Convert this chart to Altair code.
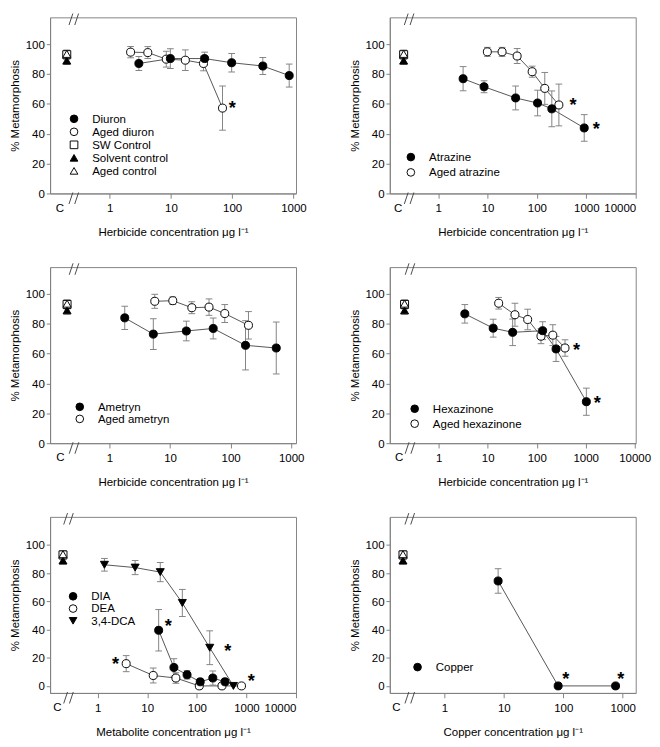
import altair as alt
import pandas as pd

# ------------------------------------------------------------------ data
control_names = ["SW Control", "Solvent control", "Aged control"]
control_y = [93.0, 89.0, 93.5]
control_err = [3.0, 2.5, 2.5]

diuron_x = [3.0, 9.8, 35.5, 98, 316, 851]
diuron_y = [87.1, 90.4, 90.4, 87.6, 85.4, 79.0]
diuron_err = [4.7, 6.6, 4.3, 6.2, 5.7, 7.7]
aged_diuron_x = [2.2, 4.2, 8.4, 17.2, 34, 69.5]
aged_diuron_y = [94.7, 94.4, 90.0, 89.3, 87.1, 57.2]
aged_diuron_err = [3.8, 4.0, 5.3, 6.9, 4.9, 14.8]

atrazine_x = [3.2, 8.5, 37, 103, 200, 906]
atrazine_y = [76.9, 71.5, 64.0, 60.6, 56.7, 43.9]
atrazine_err = [8.1, 4.0, 8.0, 8.6, 12.0, 8.9]
aged_atrazine_x = [9.9, 19.7, 39.7, 80, 144, 278]
aged_atrazine_y = [94.9, 94.9, 92.1, 81.6, 70.4, 59.3]
aged_atrazine_err = [3.0, 3.0, 5.0, 3.7, 10.7, 14.0]

ametryn_x = [1.79, 5.3, 18.6, 51.6, 176, 566]
ametryn_y = [84.0, 73.1, 75.2, 76.9, 65.6, 63.8]
ametryn_err = [7.8, 10.3, 6.6, 7.0, 16.5, 17.4]
aged_ametryn_x = [5.6, 11.1, 22.9, 44, 80, 197]
aged_ametryn_y = [95.1, 95.5, 90.8, 91.2, 86.9, 79.0]
aged_ametryn_err = [4.7, 2.5, 4.0, 5.5, 6.0, 9.2]

hexazinone_x = [3.4, 12.9, 32.2, 132, 248, 1030]
hexazinone_y = [86.7, 77.1, 74.3, 75.4, 63.2, 27.8]
hexazinone_err = [6.2, 6.0, 8.9, 6.0, 8.4, 9.1]
aged_hexazinone_x = [16.7, 35.9, 65.3, 122, 213, 378]
aged_hexazinone_y = [93.8, 86.1, 82.9, 71.7, 72.4, 63.8]
aged_hexazinone_err = [3.9, 7.7, 6.9, 5.0, 7.0, 5.5]

dia_x = [17, 34.5, 63.5, 117, 210, 370]
dia_y = [39.5, 13.1, 7.9, 2.9, 5.6, 2.9]
dia_err = [14.7, 6.2, 3.0, 2.0, 5.0, 2.5]
dea_x = [3.76, 13.2, 37.8, 112, 321, 795]
dea_y = [15.8, 7.4, 5.6, 0, 0, 0]
dea_err = [5.7, 5.3, 3.7, 0, 0, 0]
dca_x = [1.37, 5.7, 18.3, 51, 182, 546]
dca_y = [86.0, 84.0, 80.8, 58.9, 27.1, 0]
dca_err = [4.5, 5.0, 6.8, 9.6, 12.0, 0]

copper_x = [8, 82, 760]
copper_y = [74.5, 0, 0]
copper_err = [8.7, 0, 0]

# significance asterisks (x, y)
stars1_x, stars1_y = [100], [60]
stars2_x, stars2_y = [537, 1590], [62.5, 46.5]
stars3_x, stars3_y = [], []
stars4_x, stars4_y = [646, 1720], [65.7, 30]
stars5_x, stars5_y = [2.3, 26.7, 422, 1255], [18.7, 45.8, 27.8, 7]
stars6_x, stars6_y = [110, 930], [8.4, 8.4]

herb_title = "Herbicide concentration μg l⁻¹"
meta_title = "Metabolite concentration μg l⁻¹"
copper_title = "Copper concentration μg l⁻¹"
y_title = "% Metamorphosis"
ticks_1000 = [1, 10, 100, 1000]
ticks_10000 = [1, 10, 100, 1000, 10000]
y_ticks = [0, 20, 40, 60, 80, 100]

# ------------------------------------------------------------------ style / layout
FONT = "Liberation Sans"
W, H = 257, 184
FRAME = "#808080"
ERRC = "#808080"
LINEC = "#505050"
BRKC = "#444444"
CTRL_POS = 0.2        # x position of the control group on the log axis
C_LABEL_POS = 0.155   # x position of the "C" tick label
BREAK_POS = 0.27      # x position of the axis break marks

STYLE = {
    "Diuron": ("black", "circle"), "Aged diuron": ("white", "circle"),
    "Atrazine": ("black", "circle"), "Aged atrazine": ("white", "circle"),
    "Ametryn": ("black", "circle"), "Aged ametryn": ("white", "circle"),
    "Hexazinone": ("black", "circle"), "Aged hexazinone": ("white", "circle"),
    "DIA": ("black", "circle"), "DEA": ("white", "circle"),
    "3,4-DCA": ("black", "triangle-down"), "Copper": ("black", "circle"),
    "SW Control": ("white", "square"), "Solvent control": ("black", "triangle-up"),
    "Aged control": ("white", "triangle-up"),
}


def panel(series, sx, sy, xdom, xticks, ydom, xtitle, legend_names, leg_c, leg_pitch):
    rows = []
    for i, (n, yv, ev) in enumerate(zip(control_names, control_y, control_err)):
        rows.append(dict(series=n, x=CTRL_POS, y=yv, e=ev, kind="control", ord=i))
    for j, (name, xs, ys, es) in enumerate(series):
        o = 3 if STYLE[name][0] == "white" else 4
        for xv, yv, ev in zip(xs, ys, es):
            rows.append(dict(series=name, x=xv, y=yv, e=ev, kind="compound", ord=o))
    df = pd.DataFrame(rows)
    df["lo"] = df["y"] - df["e"]
    df["hi"] = df["y"] + df["e"]

    names = control_names + [s[0] for s in series]
    fills = [STYLE[n][0] for n in names]
    shapes = [STYLE[n][1] for n in names]

    xscale = alt.Scale(type="log", domain=xdom, nice=False)
    xaxis = alt.Axis(values=xticks, format="d", title=xtitle)
    yscale = alt.Scale(domain=ydom, nice=False, zero=False)
    yaxis = alt.Axis(values=y_ticks, title=y_title)
    xe = alt.X("x:Q", scale=xscale, axis=xaxis)

    leg = alt.Legend(orient="none", legendX=leg_c[0] - 7, legendY=leg_c[1] - 7,
                     title=None, values=legend_names, labelFontSize=12,
                     symbolSize=64, symbolStrokeWidth=1,
                     rowPadding=leg_pitch - 11.7, labelOffset=13, padding=0,
                     labelFont=FONT, labelColor="black")

    base = alt.Chart(df)
    lines = base.transform_filter("datum.kind == 'compound'").mark_line(
        color=LINEC, strokeWidth=1).encode(
        x=xe, y=alt.Y("y:Q", scale=yscale, axis=yaxis), detail="series:N")
    eb = base.transform_filter("datum.e > 0")
    err = eb.mark_rule(color=ERRC, strokeWidth=1).encode(
        x=xe, y=alt.Y("lo:Q", scale=yscale, axis=yaxis), y2="hi:Q")
    cap_lo = eb.mark_tick(orient="horizontal", size=7, thickness=1, color=ERRC, opacity=1).encode(
        x=xe, y=alt.Y("lo:Q", scale=yscale, axis=yaxis))
    cap_hi = eb.mark_tick(orient="horizontal", size=7, thickness=1, color=ERRC, opacity=1).encode(
        x=xe, y=alt.Y("hi:Q", scale=yscale, axis=yaxis))
    pts = base.mark_point(size=70, opacity=1, strokeWidth=1, filled=False).encode(
        x=xe, y=alt.Y("y:Q", scale=yscale, axis=yaxis),
        fill=alt.Fill("series:N", scale=alt.Scale(domain=names, range=fills), legend=leg),
        stroke=alt.Stroke("series:N", scale=alt.Scale(domain=names, range=["black"] * len(names)), legend=leg),
        shape=alt.Shape("series:N", scale=alt.Scale(domain=names, range=shapes), legend=leg),
        order=alt.Order("ord:Q"))
    layers = [lines, err, cap_lo, cap_hi, pts]
    if sx:
        sdf = pd.DataFrame({"x": sx, "y": sy})
        layers.append(alt.Chart(sdf).mark_text(text="*", fontSize=19, fontWeight="bold",
                                               baseline="middle", dy=5, color="black").encode(
            x=xe, y=alt.Y("y:Q", scale=yscale, axis=yaxis)))
    cdf = pd.DataFrame({"x": [C_LABEL_POS], "t": ["C"]})
    layers.append(alt.Chart(cdf).mark_text(fontSize=12, baseline="top", color="black").encode(
        x=xe, y=alt.value(H + 10), text="t:N"))
    bdf = pd.DataFrame({"x": [BREAK_POS]})
    for (y_lo, y_hi) in ((8, -4), (H + 11, H - 1)):
        for (o1, o2) in ((-6, -2), (0, 4)):
            layers.append(alt.Chart(bdf).mark_rule(color=BRKC, strokeWidth=1, xOffset=o1, x2Offset=o2).encode(
                x=xe, x2="x:Q", y=alt.value(y_lo), y2=alt.value(y_hi)))
    return alt.layer(*layers).properties(width=W, height=H)


p1 = panel([("Aged diuron", aged_diuron_x, aged_diuron_y, aged_diuron_err),
            ("Diuron", diuron_x, diuron_y, diuron_err)],
           stars1_x, stars1_y, [0.107, 1100], ticks_1000, [0, 118], herb_title,
           ["Diuron", "Aged diuron", "SW Control", "Solvent control", "Aged control"],
           (26, 107), 13.3)
p2 = panel([("Aged atrazine", aged_atrazine_x, aged_atrazine_y, aged_atrazine_err),
            ("Atrazine", atrazine_x, atrazine_y, atrazine_err)],
           stars2_x, stars2_y, [0.105, 10000], ticks_10000, [0, 118], herb_title,
           ["Atrazine", "Aged atrazine"], (23, 147), 15.7)
p3 = panel([("Aged ametryn", aged_ametryn_x, aged_ametryn_y, aged_ametryn_err),
            ("Ametryn", ametryn_x, ametryn_y, ametryn_err)],
           stars3_x, stars3_y, [0.105, 1200], ticks_1000, [0, 118], herb_title,
           ["Ametryn", "Aged ametryn"], (32, 147), 12.3)
p4 = panel([("Aged hexazinone", aged_hexazinone_x, aged_hexazinone_y, aged_hexazinone_err),
            ("Hexazinone", hexazinone_x, hexazinone_y, hexazinone_err)],
           stars4_x, stars4_y, [0.1, 10500], ticks_10000, [0, 118], herb_title,
           ["Hexazinone", "Aged hexazinone"], (27, 149), 15.3)
p5 = panel([("DEA", dea_x, dea_y, dea_err),
            ("DIA", dia_x, dia_y, dia_err),
            ("3,4-DCA", dca_x, dca_y, dca_err)],
           stars5_x, stars5_y, [0.11, 10000], ticks_10000, [-5, 120], meta_title,
           ["DIA", "DEA", "3,4-DCA"], (25, 84), 12.5)
p6 = panel([("Copper", copper_x, copper_y, copper_err)],
           stars6_x, stars6_y, [0.12, 1660], ticks_1000, [-5, 120], copper_title,
           ["Copper"], (30, 158), 13)

PAD = {"left": 0, "top": -12, "right": 0, "bottom": 0}
chart = alt.concat(p1, p2, p3, p4, p5, p6, columns=2,
                   spacing={"row": 25, "column": 42}).resolve_scale(
    fill="independent", stroke="independent", shape="independent").properties(
    padding=PAD).configure(font=FONT).configure_view(
    stroke=FRAME, strokeWidth=1).configure_axis(
    labelFont=FONT, titleFont=FONT, labelFontSize=12, titleFontSize=12,
    titleFontWeight="normal", labelColor="black", titleColor="black",
    tickColor=FRAME, domainColor=FRAME, grid=False).configure_axisX(
    tickSize=5, labelPadding=5, titlePadding=14).configure_axisY(
    tickSize=4, labelPadding=2, titlePadding=4)

chart.save("out.html", embed_options={"renderer": "svg", "actions": False})
